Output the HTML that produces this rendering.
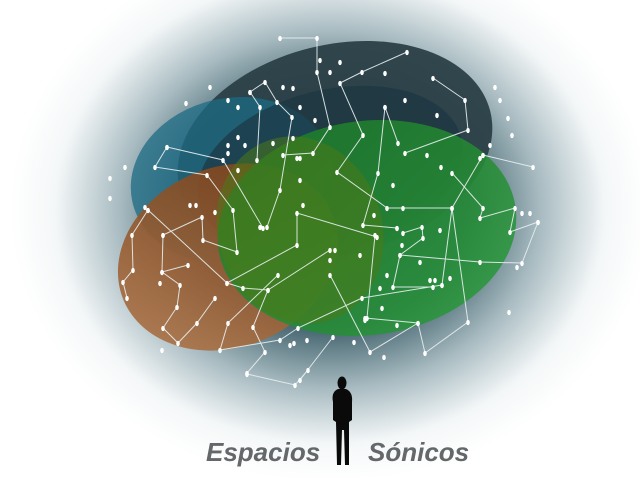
<!DOCTYPE html>
<html><head><meta charset="utf-8"><style>
html,body{margin:0;padding:0;background:#fff;width:640px;height:478px;overflow:hidden}
svg{display:block}
</style></head><body>
<svg id="s" width="640" height="478" viewBox="0 0 640 478" xmlns="http://www.w3.org/2000/svg">
<defs>
<radialGradient id="bg" cx="330" cy="210" r="320" gradientUnits="userSpaceOnUse" gradientTransform="translate(330 210) scale(1 0.85) translate(-330 -210)">
<stop offset="0" stop-color="#2a4a55"/>
<stop offset="0.42" stop-color="#3e5f6a"/>
<stop offset="0.66" stop-color="#a9bcc2"/>
<stop offset="0.86" stop-color="#f4f7f8"/>
<stop offset="1" stop-color="#ffffff"/>
</radialGradient>
<linearGradient id="br" x1="0" y1="1" x2="1" y2="0">
<stop offset="0" stop-color="#b0774a"/><stop offset="1" stop-color="#7a3d14"/>
</linearGradient>
<linearGradient id="gr" x1="0" y1="0" x2="1" y2="1">
<stop offset="0" stop-color="#1c7a26"/><stop offset="1" stop-color="#2a9a3c"/>
</linearGradient>
</defs>
<rect width="640" height="478" fill="url(#bg)"/>
<ellipse cx="335" cy="150" rx="160" ry="105" transform="rotate(-14 335 150)" fill="#2b3f47" opacity="0.95"/>
<ellipse cx="232" cy="180" rx="102" ry="82" transform="rotate(-12 232 180)" fill="#1c6b84" opacity="0.75"/>
<ellipse cx="330" cy="170" rx="135" ry="80" transform="rotate(-14 330 170)" fill="#1d3641" opacity="0.7"/>
<ellipse cx="228" cy="257" rx="113" ry="90" transform="rotate(-22 228 257)" fill="url(#br)" opacity="0.9"/>
<ellipse cx="367" cy="228" rx="150" ry="107" transform="rotate(-8 367 228)" fill="url(#gr)" opacity="0.85"/>
<ellipse cx="300" cy="230" rx="82" ry="95" transform="rotate(-20 300 230)" fill="#4a7a18" opacity="0.55"/>
<g id="L" stroke="#e8f0f0" stroke-width="1" fill="none" opacity="0.9"></g>
<g id="D" fill="#ffffff"></g>
<g fill="#0a0a0a">
<ellipse cx="342" cy="383" rx="4.5" ry="6.5"/>
<path d="M338 389 Q331 392 333 402 L333 420 L336 422 L337 465 L341 465 L342 430 L344 430 L345 465 L349 465 L349 422 L352 420 L352 402 Q353 392 346 389 Z"/>
</g>
<text x="206" y="461" font-family="Liberation Sans, sans-serif" font-weight="bold" font-style="italic" font-size="26" fill="#64686b">Espacios</text>
<text x="368" y="461" font-family="Liberation Sans, sans-serif" font-weight="bold" font-style="italic" font-size="26" fill="#64686b">Sónicos</text>
</svg>
<script>
var paths=[
[[280,38],[317,38],[317,72],[330,127],[313,153],[283,155]],
[[407,52],[362,72],[340,83],[363,135],[337,172],[387,208],[403,208],[452,208]],
[[433,78],[465,100],[468,130],[405,153]],
[[385,107],[398,143]],
[[385,107],[378,173],[363,225],[397,228]],
[[250,92],[265,82],[277,102],[292,117],[280,190],[267,227]],
[[250,92],[260,107],[257,160]],
[[167,147],[155,167],[207,175],[233,210],[237,252],[203,240],[202,217],[163,235]],
[[167,147],[223,160],[263,228]],
[[148,210],[132,235],[133,270],[123,282],[127,298]],
[[148,210],[227,283],[297,245],[297,213],[377,237]],
[[227,283],[243,288],[268,290],[253,327],[265,352],[247,373]],
[[278,275],[228,323],[220,350],[280,340],[298,328],[362,298],[442,285]],
[[483,155],[452,208],[442,285]],
[[483,155],[533,167]],
[[452,173],[483,208],[480,218],[515,208],[510,232],[538,222]],
[[538,222],[522,263],[480,262],[400,255]],
[[452,208],[468,322],[425,353],[418,323],[365,318]],
[[330,275],[370,352],[418,323]],
[[330,250],[268,290]],
[[403,233],[422,227],[423,238],[400,255],[393,287],[433,287]],
[[375,235],[367,318]],
[[333,337],[300,380]],
[[163,235],[162,272],[188,265]],
[[162,272],[180,285],[177,307],[163,328],[178,343],[197,323],[215,298]],
[[247,374],[295,385],[308,370]]
];
var extra=[[210,87],[186,103],[125,167],[110,178],[110,198],[228,100],[283,87],[293,88],[320,60],[340,62],[330,72],[385,73],[405,100],[437,115],[495,87],[508,118],[500,100],[512,135],[490,145],[441,167],[427,155],[300,107],[315,120],[238,107],[245,145],[228,145],[238,137],[293,138],[297,158],[300,158],[228,153],[238,170],[273,143],[300,180],[303,205],[215,212],[260,227],[374,215],[393,185],[360,255],[335,250],[430,280],[420,262],[522,213],[530,213],[517,267],[387,275],[382,308],[384,357],[354,342],[290,345],[294,343],[307,340],[162,350],[196,205],[190,205],[145,207],[160,283],[330,260],[380,288],[365,320],[397,325],[435,280],[440,230],[480,158],[509,312],[450,278],[397,228],[402,245]];
var L=document.getElementById('L'),D=document.getElementById('D'),ns='http://www.w3.org/2000/svg';
var pts=[];
paths.forEach(function(p){var e=document.createElementNS(ns,'polyline');e.setAttribute('points',p.map(function(a){return a.join(',')}).join(' '));L.appendChild(e);pts=pts.concat(p);});
pts=pts.concat(extra);
pts.forEach(function(a){var e=document.createElementNS(ns,'ellipse');e.setAttribute('cx',a[0]);e.setAttribute('cy',a[1]+0.5);e.setAttribute('rx',1.8);e.setAttribute('ry',2.6);D.appendChild(e);});
</script>
</body></html>
